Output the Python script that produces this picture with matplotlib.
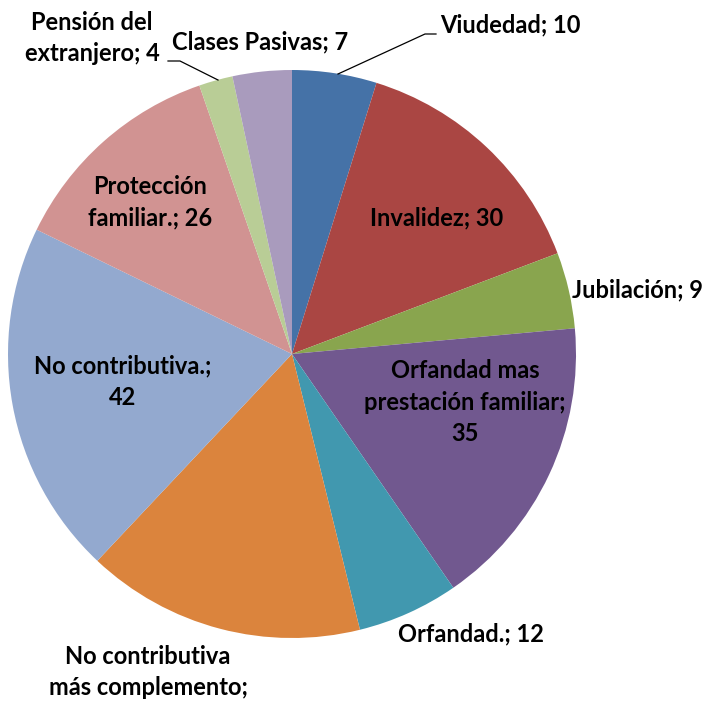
import matplotlib.pyplot as plt

categories = ["Viudedad", "Invalidez", "Jubilación", "Orfandad mas\nprestación familiar",
              "Orfandad.", "No contributiva\nmás complemento", "No contributiva.",
              "Protección\nfamiliar.", "Pensión del\nextranjero", "Clases Pasivas"]
values = [10, 30, 9, 35, 12, 33, 42, 26, 4, 7]
colors = ["#4572A7", "#AA4643", "#89A54E", "#71588F", "#4198AF",
          "#DB843D", "#93A9CF", "#D19392", "#B9CD96", "#A99BBD"]

# separator between name and value (None = value cut off at the image edge)
seps = ["; ", "; ", "; ", ";\n", "; ", None, ";\n", "; ", "; ", "; "]

# label placement in pixel coords (x, y from top), alignment
label_pos = [(440, 25, "left"), (437, 218, "center"), (572, 290, "left"),
             (465, 402, "center"), (398, 634, "left"), (148, 672, "center"),
             (123, 382, "center"), (150, 202, "center"), (92, 38, "center"),
             (172, 42, "left")]

W, H = 713, 704
fig = plt.figure(figsize=(W / 100, H / 100), dpi=100)
ax = fig.add_axes([0, 0, 1, 1])

ax.pie(values, colors=colors, startangle=90, counterclock=False,
       center=(292, H - 354), radius=284, frame=True,
       wedgeprops=dict(linewidth=0))
ax.set_xlim(0, W)
ax.set_ylim(0, H)
ax.set_aspect("equal")
ax.axis("off")

for cat, val, sep, (x, y, ha) in zip(categories, values, seps, label_pos):
    txt = cat + ";" if sep is None else f"{cat}{sep}{val}"
    ax.text(x, H - y, txt, ha=ha, va="center", fontsize=17,
            fontweight="bold", family="Lato", linespacing=1.45, color="black")

# leader lines
ax.plot([338, 425, 436], [H - 74, H - 34, H - 34], color="black", lw=0.9)
ax.plot([168, 180, 218], [H - 61, H - 61, H - 80], color="black", lw=0.9)

fig.savefig("out.png", dpi=100)
